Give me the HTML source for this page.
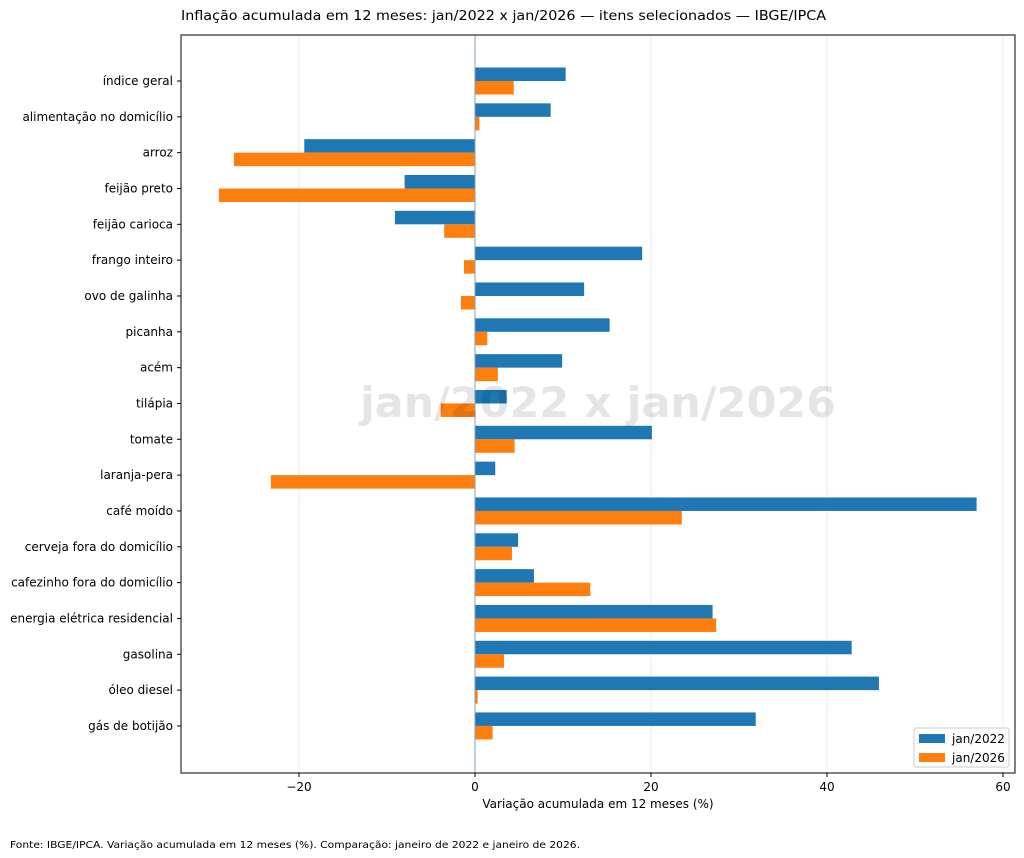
<!DOCTYPE html>
<html><head><meta charset="utf-8"><style>
body{margin:0;background:#fff;}
svg{display:block;font-family:"DejaVu Sans","Liberation Sans",sans-serif;}
</style></head><body>
<svg id="s" width="1024" height="858" xmlns="http://www.w3.org/2000/svg">
<rect width="1024" height="858" fill="#fff"/>
<g id="grid"></g>
<g id="bars"></g>
<line x1="475" y1="35" x2="475" y2="773" stroke="#7f9fb8" stroke-width="1"/>
<text x="598" y="417" text-anchor="middle" font-size="42" font-weight="bold" fill="#000" fill-opacity="0.1" textLength="476" lengthAdjust="spacingAndGlyphs">jan/2022 x jan/2026</text>
<rect x="181" y="35" width="834" height="738" fill="none" stroke="#000" stroke-width="1"/>
<g id="labels" font-size="12" fill="#000"></g>
<text x="181" y="20" font-size="13.5" textLength="645" lengthAdjust="spacingAndGlyphs">Inflação acumulada em 12 meses: jan/2022 x jan/2026 — itens selecionados — IBGE/IPCA</text>
<text x="598" y="808" text-anchor="middle" font-size="12">Variação acumulada em 12 meses (%)</text>
<text x="10" y="848" font-size="9.6" textLength="570" lengthAdjust="spacingAndGlyphs">Fonte: IBGE/IPCA. Variação acumulada em 12 meses (%). Comparação: janeiro de 2022 e janeiro de 2026.</text>
<rect x="914" y="728" width="95" height="39" fill="#fff" fill-opacity="0.8" stroke="#ccc" rx="2"/>
<rect x="919" y="734" width="26" height="9" fill="#1f77b4"/>
<text x="952" y="743" font-size="12">jan/2022</text>
<rect x="919" y="753" width="26" height="9" fill="#ff7f0e"/>
<text x="952" y="762" font-size="12">jan/2026</text>
</svg>
<script>
var d=[["índice geral",10.3,4.4],["alimentação no domicílio",8.6,0.5],["arroz",-19.4,-27.4],["feijão preto",-8,-29.1],["feijão carioca",-9.1,-3.5],["frango inteiro",19,-1.25],["ovo de galinha",12.4,-1.6],["picanha",15.3,1.4],["acém",9.9,2.6],["tilápia",3.6,-3.9],["tomate",20.1,4.5],["laranja-pera",2.3,-23.2],["café moído",57,23.5],["cerveja fora do domicílio",4.9,4.2],["cafezinho fora do domicílio",6.7,13.1],["energia elétrica residencial",27,27.4],["gasolina",42.8,3.3],["óleo diesel",45.9,0.3],["gás de botijão",31.9,2.0]];
var ns="http://www.w3.org/2000/svg";
function el(t,a,p,txt){var e=document.createElementNS(ns,t);for(var k in a)e.setAttribute(k,a[k]);if(txt)e.textContent=txt;document.getElementById(p).appendChild(e);}
function X(v){return 475+v*8.8;}
[-20,0,20,40,60].forEach(function(v){var x=X(v);
 if(v!==0)el("line",{x1:x,y1:35,x2:x,y2:773,stroke:"#ebebeb"},"grid");
 el("line",{x1:x,y1:773,x2:x,y2:777,stroke:"#000"},"labels");
 el("text",{x:x,y:791,"text-anchor":"middle"},"labels",(v<0?"−":"")+Math.abs(v));});
d.forEach(function(r,i){var c=81+i*35.83;
 el("line",{x1:177,y1:c,x2:181,y2:c,stroke:"#000"},"labels");
 el("text",{x:173,y:c+4,"text-anchor":"end"},"labels",r[0]);
 var a=X(r[1]),b=X(r[2]);
 el("rect",{x:Math.min(475,a),y:c-13.5,width:Math.abs(a-475),height:13.5,fill:"#1f77b4"},"bars");
 el("rect",{x:Math.min(475,b),y:c,width:Math.abs(b-475),height:13.5,fill:"#ff7f0e"},"bars");});
</script>
</body></html>
